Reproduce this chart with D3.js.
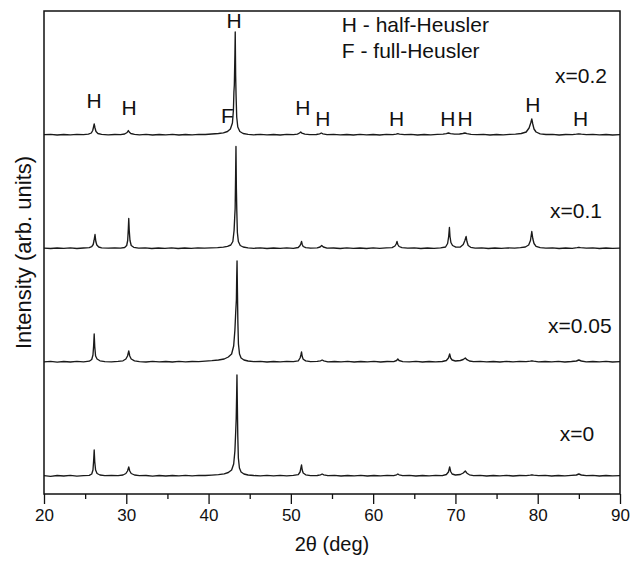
<!DOCTYPE html>
<html>
<head>
<meta charset="utf-8">
<script src="https://cdn.jsdelivr.net/npm/d3@7"></script>
<style>
    body { margin: 0; background: #fff; }
    text { font-family: 'Liberation Sans', Arial, sans-serif; fill: #111; }
    .trace { fill: none; stroke: #1a1a1a; stroke-width: 1.35; stroke-linejoin: round; }
</style>
</head>
<body>
<div id="xrd-container"></div>
<script>
// XRD patterns, [2theta, intensity above own baseline]
let sampleNames = ['x=0', 'x=0.05', 'x=0.1', 'x=0.2'];
let sampleOffsets = [18, 132, 245.5, 359];

let pattern0 = [
    [20,0.3],[20.8,-0.3],[21.6,0.5],[22.4,0],[23.2,0.6],[24,-0.2],[24.8,0.4],[25.5,0.6],[25.8,2],[25.95,6],[26.03,15],[26.1,26],[26.17,14],[26.27,6],[26.45,2.5],[26.8,1],
    [27.4,0.3],[28.2,0.6],[29,0.3],[29.6,1],[29.95,2.5],[30.15,5],[30.3,9],[30.42,5],[30.6,2.5],[31,1],[31.6,0.3],[32.4,0.5],[33.2,-0.2],[34,0.5],[34.8,0],[35.6,0.5],
    [36.4,0.1],[37.2,0.6],[38,0.2],[38.8,0.6],[39.6,0.5],[40.4,0.9],[41.2,1.4],[41.9,2.2],[42.4,3.5],[42.8,6],[43.05,12],[43.2,25],[43.3,45],[43.36,58],[43.41,80],[43.45,101],
    [43.5,70],[43.55,40],[43.62,18],[43.75,8],[43.95,4],[44.3,2],[44.8,1],[45.5,0.5],[46.3,0.1],[47.1,0.6],[47.9,0.2],[48.7,0.6],[49.5,0.1],[50.3,0.6],[50.9,1.3],[51.12,4],
    [51.22,8],[51.3,11],[51.38,6],[51.5,3],[51.8,1.2],[52.4,0.4],[53.2,0.5],[53.6,1.2],[53.8,2],[54,1.2],[54.5,0.3],[55.3,0.6],[56.1,0],[56.9,0.5],[57.7,0.1],[58.5,0.6],
    [59.3,0],[60.1,0.5],[60.9,0.1],[61.7,0.6],[62.5,0.3],[62.85,1.2],[63,2],[63.15,1.2],[63.6,0.3],[64.4,0.6],[65.2,0],[66,0.5],[66.8,0.1],[67.6,0.6],[68.4,0.3],[68.9,1.5],
    [69.15,4],[69.3,9],[69.42,4.5],[69.6,2],[70,1],[70.6,1.5],[70.95,3],[71.2,5],[71.4,2.8],[71.7,1.2],[72.2,0.4],[73,0.6],[73.8,0],[74.6,0.5],[75.4,0.1],[76.2,0.6],
    [77,0],[77.8,0.5],[78.6,0.4],[79.1,0.8],[79.3,1.2],[79.5,0.8],[80.1,0.3],[80.9,0.6],[81.7,0],[82.5,0.5],[83.3,0.1],[84.1,0.6],[84.7,1],[85,2],[85.3,1],[85.9,0.3],
    [86.7,0.6],[87.5,0],[88.3,0.5],[89.1,0.1],[90,0.4]
];

let pattern005 = [
    [20,0.2],[20.8,0.6],[21.6,-0.2],[22.4,0.5],[23.2,0],[24,0.6],[24.8,0.2],[25.5,0.8],[25.8,2.5],[25.95,7],[26.03,16],[26.1,28],[26.17,15],[26.27,6],[26.45,3],[26.8,1.2],
    [27.4,0.4],[28.2,0.2],[29,0.6],[29.6,1.2],[29.95,3],[30.15,6],[30.3,11],[30.42,6],[30.6,3],[31,1.2],[31.6,0.4],[32.4,0],[33.2,0.6],[34,0.1],[34.8,0.5],[35.6,0],
    [36.4,0.6],[37.2,0.2],[38,0.5],[38.8,0.4],[39.6,0.8],[40.4,1.3],[41.2,2],[41.9,3],[42.4,5],[42.8,8],[43.05,16],[43.2,32],[43.3,50],[43.38,62],[43.42,85],[43.46,101],
    [43.51,70],[43.56,40],[43.63,18],[43.76,8],[43.95,4],[44.3,2],[44.8,1],[45.5,0.4],[46.3,0.6],[47.1,0],[47.9,0.5],[48.7,0.1],[49.5,0.6],[50.3,0.3],[50.9,1.2],[51.12,4],
    [51.22,7],[51.3,10],[51.38,5.5],[51.5,2.8],[51.8,1.1],[52.4,0.3],[53.2,0.6],[53.6,1.2],[53.8,2],[54,1.2],[54.5,0.2],[55.3,0.5],[56.1,0.1],[56.9,0.6],[57.7,0],[58.5,0.5],
    [59.3,0.2],[60.1,0.6],[60.9,0],[61.7,0.5],[62.5,0.4],[62.85,1.5],[63,3],[63.15,1.5],[63.6,0.4],[64.4,0.2],[65.2,0.6],[66,0],[66.8,0.5],[67.6,0.1],[68.4,0.5],[68.9,1.5],
    [69.15,4],[69.3,8],[69.42,4],[69.6,2],[70,1],[70.6,1.5],[70.95,2.5],[71.2,4],[71.4,2.3],[71.7,1],[72.2,0.3],[73,0.6],[73.8,0.1],[74.6,0.5],[75.4,0],[76.2,0.6],
    [77,0.2],[77.8,0.6],[78.6,0.4],[79.1,0.8],[79.3,1.2],[79.5,0.8],[80.1,0.2],[80.9,0.5],[81.7,0.1],[82.5,0.6],[83.3,0],[84.1,0.5],[84.7,1],[85,2],[85.3,1],[85.9,0.2],
    [86.7,0.5],[87.5,0.1],[88.3,0.6],[89.1,0],[90,0.3]
];

let pattern01 = [
    [20,0.4],[20.8,0],[21.6,0.5],[22.4,0.1],[23.2,0.6],[24,0],[24.8,0.5],[25.5,0.8],[25.8,1.8],[25.98,4],[26.08,8],[26.2,14],[26.3,7],[26.42,3.5],[26.65,1.5],[27,0.6],
    [27.8,0.3],[28.6,0.6],[29.3,0.4],[29.8,1],[30.05,3],[30.17,8],[30.25,20],[30.3,30],[30.36,18],[30.45,8],[30.6,3],[30.9,1.2],[31.5,0.4],[32.3,0.6],[33.1,0],[33.9,0.5],
    [34.7,0.1],[35.5,0.6],[36.3,0],[37.1,0.5],[37.9,0.1],[38.7,0.6],[39.5,0.3],[40.3,0.6],[41.1,0.8],[41.8,1.3],[42.3,2.2],[42.7,3.5],[42.95,7],[43.1,18],[43.18,32],[43.23,40],
    [43.29,75],[43.33,102],[43.38,60],[43.43,38],[43.5,16],[43.62,7],[43.85,3],[44.2,1.5],[44.8,0.6],[45.5,0.2],[46.3,0.6],[47.1,0],[47.9,0.5],[48.7,0.2],[49.5,0.6],[50.3,0.2],
    [50.9,1],[51.12,3],[51.22,5],[51.3,7],[51.38,4],[51.5,2],[51.8,0.8],[52.4,0.3],[53.2,0.6],[53.55,1.5],[53.75,3],[53.95,1.5],[54.4,0.4],[55.2,0.5],[56,0],[56.8,0.6],
    [57.6,0.1],[58.4,0.5],[59.2,0],[60,0.6],[60.8,0.2],[61.6,0.6],[62.3,0.8],[62.65,2.5],[62.8,4.5],[62.9,7],[63,4],[63.15,2],[63.5,0.8],[64.2,0.3],[65,0.6],[65.8,0],
    [66.6,0.5],[67.4,0.2],[68.2,0.6],[68.8,1.5],[69.05,5],[69.18,12],[69.27,21],[69.34,12],[69.45,6],[69.65,3],[70.05,1.3],[70.6,1.5],[70.95,4],[71.15,8],[71.3,12],[71.4,7],
    [71.55,3],[71.85,1.2],[72.4,0.4],[73.2,0.6],[74,0],[74.8,0.5],[75.6,0.2],[76.4,0.6],[77.2,0.3],[77.9,0.8],[78.5,1.5],[78.9,3.5],[79.12,8],[79.28,17],[79.4,10],[79.55,5],
    [79.8,2.2],[80.3,0.8],[81,0.4],[81.8,0.6],[82.6,0],[83.4,0.5],[84.2,0.2],[84.8,0.8],[85,1.2],[85.2,0.8],[85.9,0.3],[86.7,0.6],[87.5,0],[88.3,0.5],[89.1,0.2],[90,0.4]
];

let pattern02 = [
    [20,0.3],[20.8,0.6],[21.6,0],[22.4,0.5],[23.2,0.1],[24,0.6],[24.8,0.3],[25.4,0.8],[25.75,2],[25.92,4.5],[26.02,8],[26.1,11],[26.2,7],[26.32,3.5],[26.55,1.5],[27,0.6],
    [27.8,0.2],[28.6,0.5],[29.3,0.3],[29.8,1],[30.1,2.5],[30.25,4.5],[30.35,3],[30.55,1.5],[31,0.6],[31.6,0.2],[32.4,0.6],[33.2,0],[34,0.5],[34.8,0.1],[35.6,0.6],[36.4,0],
    [37.2,0.5],[38,0.2],[38.8,0.7],[39.6,0.5],[40.4,1],[41.2,1.5],[41.8,2.2],[42.3,3.5],[42.65,6],[42.9,12],[43.02,25],[43.08,43],[43.13,50],[43.2,80],[43.24,103],[43.29,60],
    [43.34,40],[43.42,18],[43.55,8],[43.8,3.5],[44.2,1.5],[44.8,0.6],[45.5,0.2],[46.3,0.6],[47.1,0.1],[47.9,0.5],[48.7,0],[49.5,0.6],[50.3,0.3],[50.8,0.9],[51.05,2],[51.2,3],
    [51.35,1.8],[51.7,0.8],[52.3,0.3],[53.1,0.5],[53.5,1.2],[53.7,2],[53.9,1.2],[54.4,0.3],[55.2,0.6],[56,0.1],[56.8,0.5],[57.6,0],[58.4,0.6],[59.2,0.2],[60,0.5],[60.8,0],
    [61.6,0.6],[62.4,0.4],[62.8,0.9],[63,1.3],[63.2,0.9],[63.8,0.3],[64.6,0.6],[65.4,0],[66.2,0.5],[67,0.1],[67.8,0.6],[68.5,0.8],[68.9,1.3],[69.15,2],[69.4,1.3],[69.9,0.8],
    [70.5,1],[70.9,1.5],[71.15,2],[71.4,1.3],[71.9,0.6],[72.6,0.3],[73.4,0.6],[74.2,0],[75,0.5],[75.8,0.2],[76.6,0.6],[77.3,0.8],[78,1.5],[78.6,3],[78.95,7],[79.15,12],
    [79.28,16],[79.4,11],[79.55,6],[79.8,3],[80.3,1.2],[81,0.5],[81.8,0.6],[82.6,0],[83.4,0.5],[84.2,0.3],[84.7,0.8],[85,1.2],[85.3,0.8],[85.9,0.3],[86.7,0.6],[87.5,0.1],
    [88.3,0.5],[89.1,0],[90,0.4]
];

let patterns = [pattern0, pattern005, pattern01, pattern02];

// phase marks above the x=0.2 pattern: [label, 2theta, intensity level]
let peakMarks = [
    ['H', 26.08, 386], ['H', 30.33, 379], ['F', 42.3, 371], ['H', 43.09, 466],
    ['H', 51.47, 379], ['H', 53.9, 368], ['H', 62.86, 368], ['H', 69.07, 368],
    ['H', 71.16, 368], ['H', 79.42, 382], ['H', 85.22, 368]
];
// sample label positions: [2theta, intensity level]
let sampleLabelPos = [[84.77, 53], [85.13, 161], [84.65, 276], [85.26, 411]];
let legendLines = ['H - half-Heusler', 'F - full-Heusler'];
let legendPos = [[56.2, 462], [56.2, 436]];

let xTicks = [20, 30, 40, 50, 60, 70, 80, 90];
let xMinorTicks = [25, 35, 45, 55, 65, 75, 85];

let margin = {top: 11, right: 10, bottom: 71, left: 44};
let width = 630 - margin.left - margin.right;
let height = 565 - margin.top - margin.bottom;

let svg = d3.select('#xrd-container').append('svg')
    .attr('width', 630)
    .attr('height', 565);

let g = svg.append('g')
    .attr('transform', 'translate(' + margin.left + ',' + margin.top + ')');

let x = d3.scaleLinear().domain([20, 90]).range([0, width]);
let y = d3.scaleLinear().domain([0, 483]).range([height, 0]);

// traces
let line = d3.line()
    .x(function(d) { return x(d[0]); })
    .y(function(d) { return y(d[1]); });

g.selectAll('path.trace')
    .data(patterns)
    .enter()
    .append('path')
    .attr('class', 'trace')
    .attr('d', function(d, i) {
        let off = sampleOffsets[i];
        return line(d.map(function(p) { return [p[0], p[1] + off]; }));
    });

// bottom axis, major and minor ticks
let xAxis = g.append('g')
    .attr('transform', 'translate(0,' + height + ')')
    .call(d3.axisBottom(x).tickValues(xTicks).tickSize(10).tickPadding(5).tickSizeOuter(0));
xAxis.select('.domain').remove();
xAxis.selectAll('line').attr('stroke', '#111').attr('stroke-width', 1.3);
xAxis.selectAll('text')
    .style('font-family', "'Liberation Sans', Arial, sans-serif")
    .style('font-size', '17px')
    .attr('fill', '#111');

let xMinor = g.append('g')
    .attr('transform', 'translate(0,' + height + ')')
    .call(d3.axisBottom(x).tickValues(xMinorTicks).tickSize(5).tickFormat(''));
xMinor.select('.domain').remove();
xMinor.selectAll('line').attr('stroke', '#111').attr('stroke-width', 1.3);

// frame
g.append('rect')
    .attr('x', 0)
    .attr('y', 0)
    .attr('width', width)
    .attr('height', height)
    .attr('fill', 'none')
    .attr('stroke', '#111')
    .attr('stroke-width', 1.5);

// axis titles
svg.append('text')
    .attr('x', margin.left + width / 2)
    .attr('y', 551)
    .attr('text-anchor', 'middle')
    .style('font-size', '20px')
    .text('2θ (deg)');

svg.append('text')
    .attr('transform', 'translate(31,' + (margin.top + height / 2) + ') rotate(-90)')
    .attr('text-anchor', 'middle')
    .style('font-size', '22px')
    .text('Intensity (arb. units)');

// phase marks
g.selectAll('text.mark')
    .data(peakMarks)
    .enter()
    .append('text')
    .attr('class', 'mark')
    .attr('x', function(d) { return x(d[1]); })
    .attr('y', function(d) { return y(d[2]); })
    .attr('text-anchor', 'middle')
    .style('font-size', '21px')
    .text(function(d) { return d[0]; });

// sample labels
g.selectAll('text.sample')
    .data(sampleNames)
    .enter()
    .append('text')
    .attr('class', 'sample')
    .attr('x', function(d, i) { return x(sampleLabelPos[i][0]); })
    .attr('y', function(d, i) { return y(sampleLabelPos[i][1]); })
    .attr('text-anchor', 'middle')
    .style('font-size', '21px')
    .text(function(d) { return d; });

// legend
g.selectAll('text.legend')
    .data(legendLines)
    .enter()
    .append('text')
    .attr('class', 'legend')
    .attr('x', function(d, i) { return x(legendPos[i][0]); })
    .attr('y', function(d, i) { return y(legendPos[i][1]); })
    .style('font-size', '21px')
    .text(function(d) { return d; });
</script>
</body>
</html>
